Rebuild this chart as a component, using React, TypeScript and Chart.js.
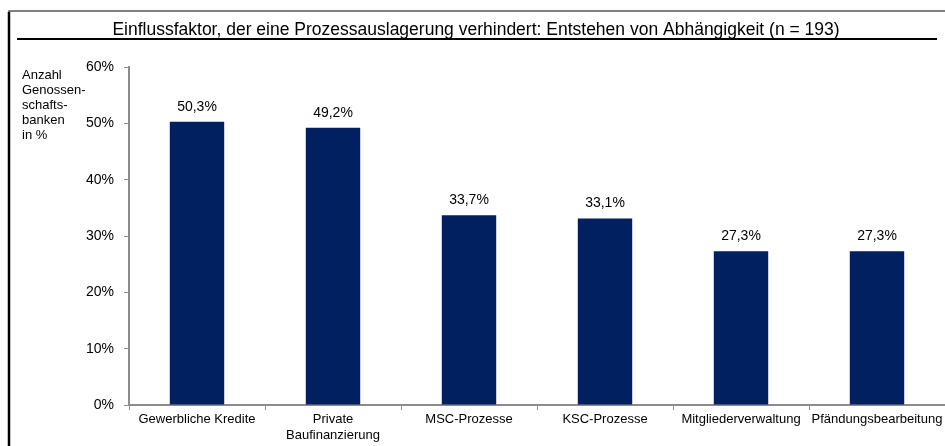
import React, { useEffect, useRef } from "react";
import { Chart, registerables } from "chart.js";

Chart.register(...registerables);

const TITLE = "Einflussfaktor, der eine Prozessauslagerung verhindert: Entstehen von Abhängigkeit (n = 193)";
const Y_LABEL_LINES = ["Anzahl", "Genossen-", "schafts-", "banken", "in %"];
const CATEGORIES: (string | string[])[] = [
  "Gewerbliche Kredite",
  ["Private", "Baufinanzierung"],
  "MSC-Prozesse",
  "KSC-Prozesse",
  "Mitgliederverwaltung",
  "Pfändungsbearbeitung",
];
const VALUES = [50.3, 49.2, 33.7, 33.1, 27.3, 27.3];
const Y_MIN = 0;
const Y_MAX = 60;
const Y_STEP = 10;

const FONT = "Arial, 'Liberation Sans', sans-serif";
const BAR_COLOR = "#002060";
const AXIS_COLOR = "#8c8c8c";

export default function App() {
  const canvasRef = useRef<HTMLCanvasElement | null>(null);

  useEffect(() => {
    const canvas = canvasRef.current;
    if (!canvas) return;

    const framePlugin = {
      id: "frame",
      beforeDraw(chart: any) {
        const ctx = chart.ctx;
        ctx.save();
        ctx.fillStyle = "#fff";
        ctx.fillRect(0, 0, chart.width, chart.height);
        ctx.restore();
      },
      afterDraw(chart: any) {
        const ctx = chart.ctx;
        ctx.save();
        // outer frame
        ctx.strokeStyle = "#555";
        ctx.lineWidth = 1.5;
        ctx.beginPath();
        ctx.moveTo(9, chart.height);
        ctx.lineTo(9, 11);
        ctx.lineTo(chart.width, 11);
        ctx.stroke();
        ctx.strokeStyle = "#000";
        ctx.lineWidth = 2.5;
        ctx.beginPath();
        ctx.moveTo(9, 12);
        ctx.lineTo(9, chart.height);
        ctx.stroke();
        // title
        ctx.fillStyle = "#000";
        ctx.font = `17.5px ${FONT}`;
        ctx.textAlign = "center";
        ctx.textBaseline = "alphabetic";
        ctx.fillText(TITLE, 476, 35);
        // underline
        ctx.lineWidth = 2;
        ctx.beginPath();
        ctx.moveTo(17, 39);
        ctx.lineTo(937, 39);
        ctx.stroke();
        // y-axis label
        ctx.font = `13px ${FONT}`;
        ctx.textAlign = "left";
        ctx.textBaseline = "middle";
        Y_LABEL_LINES.forEach((line, i) => {
          ctx.fillText(line, 22, 75 + i * 15);
        });
        // value labels
        const meta = chart.getDatasetMeta(0);
        ctx.font = `14px ${FONT}`;
        ctx.textAlign = "center";
        ctx.textBaseline = "bottom";
        meta.data.forEach((bar: any, i: number) => {
          const txt = VALUES[i].toFixed(1).replace(".", ",") + "%";
          ctx.fillText(txt, bar.x, bar.y - 8);
        });
        ctx.restore();
      },
    };

    const chart = new Chart(canvas, {
      type: "bar",
      data: {
        labels: CATEGORIES,
        datasets: [
          {
            data: VALUES,
            backgroundColor: BAR_COLOR,
            borderWidth: 0,
            barPercentage: 0.4,
            categoryPercentage: 1,
          },
        ],
      },
      options: {
        animation: false,
        responsive: false,
        maintainAspectRatio: false,
        layout: { padding: { top: 67, right: 0, left: 0, bottom: 0 } },
        plugins: {
          legend: { display: false },
          title: { display: false },
          tooltip: { enabled: false },
        },
        scales: {
          x: {
            offset: true,
            grid: {
              display: true,
              drawOnChartArea: false,
              drawTicks: true,
              tickLength: 5,
              color: AXIS_COLOR,
              offset: true,
            },
            border: { display: true, color: AXIS_COLOR, width: 2 },
            ticks: {
              color: "#000",
              font: { family: FONT, size: 13 },
              maxRotation: 0,
              autoSkip: false,
              padding: 2,
            },
            afterFit(scale: any) {
              scale.height = 41;
            },
          },
          y: {
            min: Y_MIN,
            max: Y_MAX,
            grid: {
              display: true,
              drawOnChartArea: false,
              drawTicks: true,
              tickLength: 5,
              color: AXIS_COLOR,
            },
            border: { display: true, color: AXIS_COLOR, width: 2 },
            ticks: {
              stepSize: Y_STEP,
              color: "#000",
              font: { family: FONT, size: 14 },
              padding: 10,
              callback: (v: any) => `${v}%`,
            },
            afterFit(scale: any) {
              scale.width = 129;
            },
          },
        },
      },
      plugins: [framePlugin],
    });

    return () => chart.destroy();
  }, []);

  return (
    <div style={{ position: "absolute", left: 0, top: 0, width: 945, height: 446 }}>
      <canvas ref={canvasRef} width={945} height={446} style={{ display: "block" }} />
    </div>
  );
}
